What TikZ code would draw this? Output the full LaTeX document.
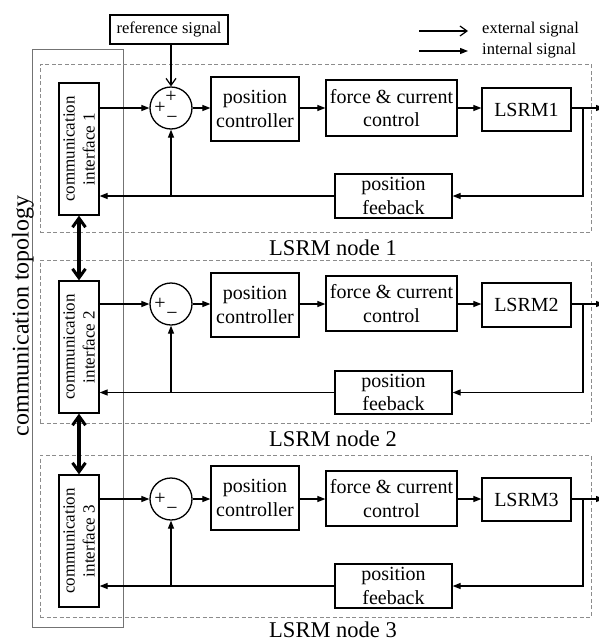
\documentclass[tikz,border=0pt]{standalone}
\usepackage{fontspec}
\setmainfont{Liberation Serif}
\usetikzlibrary{arrows.meta,calc}
\begin{document}
\begin{tikzpicture}[x=1pt,y=-1pt,
  blk/.style={draw, line width=1.3pt, align=center, inner sep=0pt, font=\fontsize{20}{23.5}\selectfont},
  citext/.style={rotate=90, align=center, inner sep=0pt, font=\fontsize{17}{20}\selectfont},
  sumc/.style={draw, circle, line width=1.3pt, minimum size=42pt, inner sep=0pt},
  sign/.style={inner sep=0pt, font=\fontsize{20}{20}\selectfont},
  dashbox/.style={draw=black!45, dash pattern=on 4pt off 2.5pt, line width=0.9pt, inner sep=0pt},
  topobox/.style={draw=black!55, line width=1pt, inner sep=0pt},
  sig/.style={line width=1.2pt, -{Triangle[length=8pt,width=6pt]}},
  ext/.style={line width=1.2pt, -{Straight Barb[length=7pt,width=10pt,line width=1.2pt]}},
  comm/.style={line width=3.5pt, {Straight Barb[length=9pt,width=13pt,line width=3pt]}-{Straight Barb[length=9pt,width=13pt,line width=3pt]}},
  lbl/.style={inner sep=0pt, font=\fontsize{22.5}{22.5}\selectfont},
  small/.style={inner sep=0pt, font=\fontsize{16.5}{20}\selectfont}
]
\useasboundingbox (0,0) rectangle (599,643);

% communication topology box
\node[topobox, minimum width=91pt, minimum height=578pt] (topo) at (77.5,338) {};
\node[rotate=90, inner sep=0pt, font=\fontsize{24}{24}\selectfont] (topotext) at (23,316) {communication topology};

% reference signal
\node[blk, minimum width=118pt, minimum height=29pt, font=\fontsize{16.5}{20}\selectfont] (ref) at (169,29.5) {reference signal};

% legend
\coordinate (e1) at (419,31);
\coordinate (e2) at (468,31);
\coordinate (i1) at (419,51);
\coordinate (i2) at (468,51);
\draw[ext] (e1) -- (e2);
\draw[sig] (i1) -- (i2);
\node[small, anchor=west] (lext) at (482,30) {external signal};
\node[small, anchor=west] (lint) at (482,51) {internal signal};

\foreach \i/\dT/\dB/\cT/\cB/\sY/\pT/\pB/\fT/\fB/\mT/\mB/\qT/\qB/\lY in {
  1/64/232/83/215/108/77/141/80/136/88/131/174/218/248,
  2/260/423/281/413/304/273/337/276/331/283/327/371/414/439,
  3/455/617/475/607/499/466/530/471/526/478/521/564/608/630}{
  \node[dashbox, minimum width=551pt, minimum height={\dB-\dT}] (nd\i) at (315.5,{(\dT+\dB)/2}) {};
  \node[lbl] (lab\i) at (333,\lY) {LSRM node \i};
  \node[blk, minimum width=40pt, minimum height={\cB-\cT}] (ci\i) at (79,{(\cT+\cB)/2}) {};
  \node[citext] (cit\i) at (ci\i.center) {communication\\interface \i};
  \node[sumc] (sum\i) at (171,\sY) {};
  \node[sign] (sp\i) at ($(sum\i.center)+(-11,0)$) {+};
  \node[sign] (sm\i) at ($(sum\i.center)+(1,12)$) {−};
  \node[blk, minimum width=88pt, minimum height={\pB-\pT}] (pc\i) at (255,{(\pT+\pB)/2}) {position\\controller};
  \node[blk, minimum width=131pt, minimum height={\fB-\fT}] (f\i) at (391.5,{(\fT+\fB)/2}) {force \& current\\control};
  \node[blk, minimum width=89pt, minimum height={\mB-\mT}] (m\i) at (526.5,{(\mT+\mB)/2}) {LSRM\i};
  \node[blk, minimum width=117pt, minimum height={\qB-\qT}] (pf\i) at (393.5,{(\qT+\qB)/2}) {position\\feeback};
  \coordinate (br\i) at (583,\sY);
  \coordinate (out\i) at (604,\sY);
  \coordinate (tap\i) at (sum\i.south |- pf\i.west);
  \draw[sig] (ci\i.east |- sum\i.center) -- (sum\i.west);
  \draw[sig] (sum\i.east) -- (sum\i.east -| pc\i.west);
  \draw[sig] (pc\i.east |- sum\i.center) -- (f\i.west |- sum\i.center);
  \draw[sig] (f\i.east |- sum\i.center) -- (m\i.west |- sum\i.center);
  \draw[sig] (m\i.east |- sum\i.center) -- (out\i);
  \draw[sig] (br\i) |- (pf\i.east);
  \draw[sig] (pf\i.west) -- (ci\i.east |- pf\i.west);
  \draw[sig] (tap\i) -- (sum\i.south);
}

\node[sign] (sp0) at ($(sum1.center)+(0,-11)$) {+};
\draw[ext] (sum1.north |- ref.south) -- (sum1.north);

\draw[comm] (ci1.south) -- (ci2.north);
\draw[comm] (ci2.south) -- (ci3.north);
\end{tikzpicture}
\end{document}
